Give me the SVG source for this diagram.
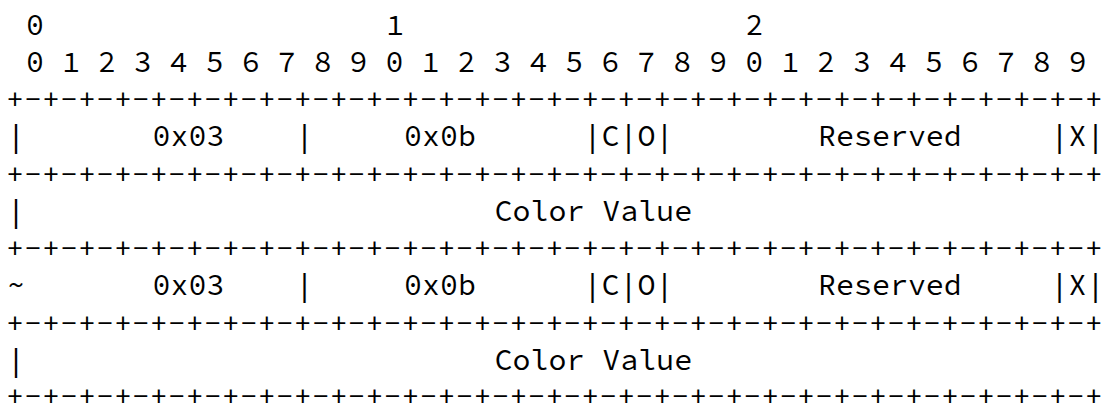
<svg xmlns="http://www.w3.org/2000/svg" width="1105" height="407" viewBox="0 0 1105 407">
<style>
text{font-family:"Source Code Pro","DejaVu Sans Mono",monospace;font-size:30px;fill:#000;white-space:pre}
</style>
<rect width="1105" height="407" fill="#fff"/>
<g id="ruler">
<text x="26" y="34.5">0</text>
<text x="386" y="34.5">1</text>
<text x="745.5" y="34.5">2</text>
<text x="8" y="71.75" xml:space="preserve" textLength="1078.8" lengthAdjust="spacing"> 0 1 2 3 4 5 6 7 8 9 0 1 2 3 4 5 6 7 8 9 0 1 2 3 4 5 6 7 8 9</text>
</g>
<g id="connectors">
<text x="6" y="109" textLength="1096.78" lengthAdjust="spacing">+-+-+-+-+-+-+-+-+-+-+-+-+-+-+-+-+-+-+-+-+-+-+-+-+-+-+-+-+-+-+</text>
<text x="6" y="183.5" textLength="1096.78" lengthAdjust="spacing">+-+-+-+-+-+-+-+-+-+-+-+-+-+-+-+-+-+-+-+-+-+-+-+-+-+-+-+-+-+-+</text>
<text x="6" y="258" textLength="1096.78" lengthAdjust="spacing">+-+-+-+-+-+-+-+-+-+-+-+-+-+-+-+-+-+-+-+-+-+-+-+-+-+-+-+-+-+-+</text>
<text x="6" y="332.5" textLength="1096.78" lengthAdjust="spacing">+-+-+-+-+-+-+-+-+-+-+-+-+-+-+-+-+-+-+-+-+-+-+-+-+-+-+-+-+-+-+</text>
<text x="6" y="406" textLength="1096.78" lengthAdjust="spacing">+-+-+-+-+-+-+-+-+-+-+-+-+-+-+-+-+-+-+-+-+-+-+-+-+-+-+-+-+-+-+</text>
</g>
<g id="row1">
<text x="7" y="146.25">|</text>
<text x="152.5" y="146.25" textLength="71.92" lengthAdjust="spacing">0x03</text>
<text x="295.5" y="146.25">|</text>
<text x="404" y="146.25" textLength="71.92" lengthAdjust="spacing">0x0b</text>
<text x="583.5" y="146.25" textLength="89.9" lengthAdjust="spacing">|C|O|</text>
<text x="818" y="146.25" textLength="143.84" lengthAdjust="spacing">Reserved</text>
<text x="1050.5" y="146.25" textLength="53.94" lengthAdjust="spacing">|X|</text>
</g>
<g id="row2">
<text x="7" y="220.75">|</text>
<text x="494.5" y="220.75" textLength="197.78" lengthAdjust="spacing">Color Value</text>
</g>
<g id="row3">
<text x="7" y="295.25">~</text>
<text x="152.5" y="295.25" textLength="71.92" lengthAdjust="spacing">0x03</text>
<text x="295.5" y="295.25">|</text>
<text x="404" y="295.25" textLength="71.92" lengthAdjust="spacing">0x0b</text>
<text x="583.5" y="295.25" textLength="89.9" lengthAdjust="spacing">|C|O|</text>
<text x="818" y="295.25" textLength="143.84" lengthAdjust="spacing">Reserved</text>
<text x="1050.5" y="295.25" textLength="53.94" lengthAdjust="spacing">|X|</text>
</g>
<g id="row4">
<text x="7" y="369.75">|</text>
<text x="494.5" y="369.75" textLength="197.78" lengthAdjust="spacing">Color Value</text>
</g>
</svg>
